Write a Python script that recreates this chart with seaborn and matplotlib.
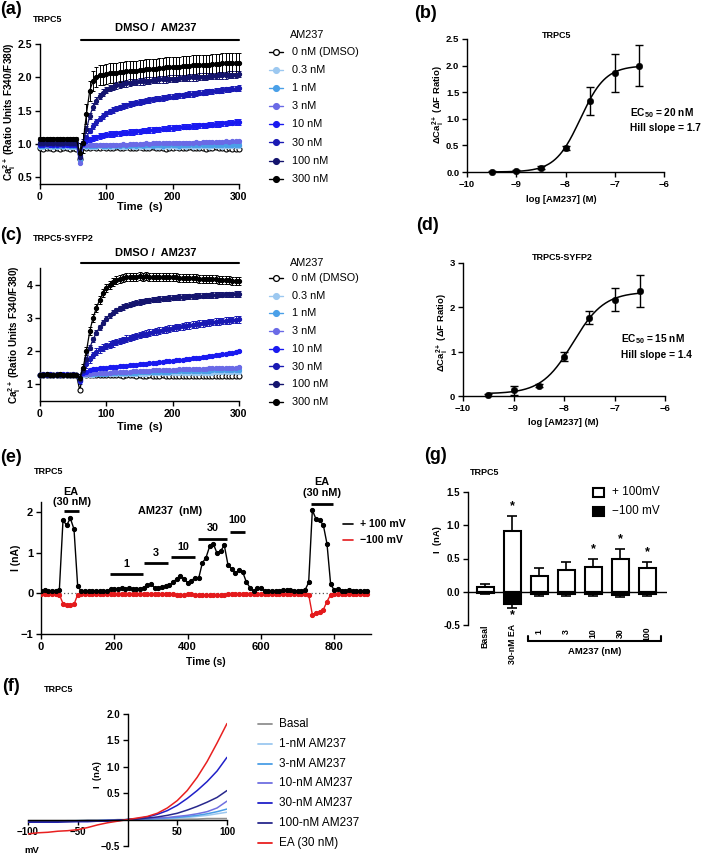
import numpy as np
import pandas as pd
import matplotlib
matplotlib.use("Agg")
import matplotlib.pyplot as plt
import matplotlib.transforms as mtrans
import seaborn as sns
from matplotlib.lines import Line2D
from matplotlib.patches import Rectangle

# ======================= DATA =======================
CONC_LABELS = ["0 nM (DMSO)", "0.3 nM", "1 nM", "3 nM", "10 nM", "30 nM", "100 nM", "300 nM"]
TIME_AC = list(range(0, 301, 5))

# ---- panel (a) TRPC5 Ca2+ traces ----
a_dmso = [0.94, 0.93, 0.94, 0.94, 0.93, 0.94, 0.93, 0.94, 0.94, 0.93, 0.94, 0.93, 0.77, 1.00,
          0.94, 0.94, 0.95, 0.94, 0.94, 0.95, 0.94, 0.94, 0.94, 0.95,
          0.94, 0.94, 0.95, 0.94, 0.94, 0.94, 0.95, 0.94, 0.94, 0.94,
          0.95, 0.94, 0.94, 0.94, 0.93, 0.94, 0.94, 0.95, 0.94, 0.94,
          0.94, 0.95, 0.94, 0.94, 0.94, 0.94, 0.93, 0.94, 0.94, 0.95,
          0.94, 0.94, 0.93, 0.94, 0.93, 0.93, 0.93]
a_03 = [0.96, 0.96, 0.97, 0.96, 0.96, 0.96, 0.97, 0.96, 0.96, 0.96, 0.96, 0.96, 0.80, 0.97,
        0.96, 0.96, 0.96, 0.96, 0.97, 0.96, 0.96, 0.96, 0.96, 0.97,
        0.96, 0.96, 0.96, 0.97, 0.96, 0.96, 0.96, 0.97, 0.96, 0.96,
        0.97, 0.96, 0.96, 0.96, 0.97, 0.96, 0.97, 0.96, 0.96, 0.97,
        0.96, 0.97, 0.96, 0.97, 0.96, 0.97, 0.97, 0.96, 0.97, 0.97,
        0.97, 0.96, 0.97, 0.97, 0.97, 0.97, 0.97]
a_1 = [0.97, 0.97, 0.97, 0.98, 0.97, 0.97, 0.97, 0.97, 0.98, 0.97, 0.97, 0.97, 0.76, 0.98,
       0.97, 0.97, 0.97, 0.97, 0.98, 0.97, 0.97, 0.97, 0.98, 0.97,
       0.97, 0.98, 0.97, 0.97, 0.98, 0.97, 0.98, 0.97, 0.98, 0.98,
       0.97, 0.98, 0.98, 0.97, 0.98, 0.98, 0.98, 0.98, 0.97, 0.98,
       0.98, 0.98, 0.99, 0.98, 0.98, 0.98, 0.99, 0.98, 0.99, 0.98,
       0.99, 0.99, 0.98, 0.99, 0.99, 0.99, 0.99]
a_3 = [0.98, 0.98, 0.99, 0.98, 0.98, 0.98, 0.98, 0.99, 0.98, 0.98, 0.98, 0.98, 0.72, 0.98,
       0.98, 0.98, 0.98, 0.99, 0.98, 0.99, 0.99, 0.99, 0.99, 0.99,
       0.99, 1.00, 0.99, 1.00, 1.00, 1.00, 1.00, 1.00, 1.01, 1.00,
       1.01, 1.01, 1.01, 1.01, 1.01, 1.02, 1.01, 1.02, 1.02, 1.02,
       1.02, 1.02, 1.02, 1.03, 1.02, 1.03, 1.03, 1.03, 1.03, 1.03,
       1.03, 1.03, 1.04, 1.03, 1.04, 1.04, 1.04]
a_10 = [0.99, 0.99, 1.00, 0.99, 0.99, 0.99, 1.00, 0.99, 0.99, 0.99, 0.99, 0.99, 0.80, 1.00,
        1.04, 1.07, 1.09, 1.10, 1.12, 1.13, 1.14, 1.15, 1.15, 1.16,
        1.16, 1.17, 1.17, 1.18, 1.18, 1.19, 1.19, 1.20, 1.20, 1.21,
        1.21, 1.22, 1.22, 1.23, 1.23, 1.24, 1.24, 1.25, 1.25, 1.26,
        1.26, 1.26, 1.27, 1.27, 1.28, 1.28, 1.28, 1.29, 1.29, 1.30,
        1.30, 1.31, 1.31, 1.32, 1.32, 1.33, 1.33]
a_30 = [1.00, 1.00, 1.00, 1.01, 1.00, 1.00, 1.00, 1.00, 1.01, 1.00, 1.00, 1.00, 0.84, 1.01,
        1.10, 1.20, 1.27, 1.33, 1.38, 1.42, 1.46, 1.49, 1.51, 1.53,
        1.55, 1.57, 1.58, 1.60, 1.61, 1.62, 1.63, 1.64, 1.65, 1.66,
        1.67, 1.68, 1.68, 1.69, 1.70, 1.71, 1.71, 1.72, 1.73, 1.73,
        1.74, 1.75, 1.75, 1.76, 1.77, 1.77, 1.78, 1.79, 1.79, 1.80,
        1.80, 1.81, 1.82, 1.82, 1.83, 1.83, 1.84]
a_100 = [1.01, 1.01, 1.02, 1.01, 1.01, 1.01, 1.01, 1.02, 1.01, 1.01, 1.01, 1.01, 0.80, 1.02,
         1.22, 1.42, 1.56, 1.65, 1.72, 1.77, 1.81, 1.84, 1.86, 1.88,
         1.89, 1.90, 1.91, 1.92, 1.93, 1.93, 1.94, 1.94, 1.95, 1.95,
         1.96, 1.96, 1.97, 1.97, 1.97, 1.98, 1.98, 1.98, 1.99, 1.99,
         1.99, 2.00, 2.00, 2.00, 2.01, 2.01, 2.01, 2.02, 2.02, 2.02,
         2.03, 2.03, 2.03, 2.04, 2.04, 2.04, 2.05]
a_300 = [1.07, 1.07, 1.08, 1.07, 1.07, 1.07, 1.08, 1.07, 1.07, 1.07, 1.07, 1.07, 0.86, 1.02,
         1.45, 1.80, 1.95, 2.01, 2.03, 2.04, 2.05, 2.06, 2.07, 2.07,
         2.08, 2.08, 2.09, 2.09, 2.10, 2.10, 2.11, 2.11, 2.12, 2.12,
         2.13, 2.13, 2.14, 2.14, 2.15, 2.15, 2.16, 2.16, 2.16, 2.17,
         2.17, 2.17, 2.18, 2.18, 2.18, 2.19, 2.19, 2.19, 2.20, 2.20,
         2.20, 2.21, 2.21, 2.21, 2.21, 2.22, 2.22]
a_sem_pre = [0.01, 0.01, 0.01, 0.02, 0.02, 0.02, 0.02, 0.03]
a_sem_post = [0.01, 0.02, 0.02, 0.02, 0.04, 0.04, 0.05, 0.15]

# ---- panel (c) TRPC5-SYFP2 Ca2+ traces ----
c_dmso = [1.27, 1.27, 1.28, 1.27, 1.27, 1.27, 1.27, 1.28, 1.27, 1.27, 1.27, 1.27, 0.82, 1.34,
          1.27, 1.27, 1.28, 1.27, 1.27, 1.27, 1.28, 1.27, 1.27, 1.27,
          1.27, 1.26, 1.27, 1.27, 1.27, 1.26, 1.27, 1.26, 1.26, 1.27,
          1.26, 1.26, 1.26, 1.27, 1.26, 1.26, 1.26, 1.26, 1.25, 1.26,
          1.26, 1.26, 1.25, 1.26, 1.26, 1.25, 1.26, 1.25, 1.25, 1.26,
          1.25, 1.25, 1.25, 1.26, 1.25, 1.25, 1.25]
c_03 = [1.28, 1.28, 1.28, 1.29, 1.28, 1.28, 1.28, 1.28, 1.29, 1.28, 1.28, 1.28, 1.15, 1.29,
        1.29, 1.29, 1.29, 1.30, 1.30, 1.30, 1.30, 1.30, 1.31, 1.31,
        1.31, 1.31, 1.31, 1.32, 1.32, 1.32, 1.32, 1.32, 1.32, 1.33,
        1.33, 1.33, 1.33, 1.33, 1.33, 1.34, 1.34, 1.34, 1.34, 1.34,
        1.34, 1.34, 1.35, 1.35, 1.35, 1.35, 1.35, 1.35, 1.35, 1.36,
        1.36, 1.36, 1.36, 1.36, 1.36, 1.36, 1.37]
c_1 = [1.28, 1.28, 1.29, 1.28, 1.28, 1.28, 1.28, 1.29, 1.28, 1.28, 1.28, 1.28, 1.10, 1.30,
       1.30, 1.31, 1.31, 1.31, 1.32, 1.32, 1.32, 1.33, 1.33, 1.33,
       1.34, 1.34, 1.34, 1.35, 1.35, 1.35, 1.36, 1.36, 1.36, 1.37,
       1.37, 1.37, 1.37, 1.38, 1.38, 1.38, 1.39, 1.39, 1.39, 1.39,
       1.40, 1.40, 1.40, 1.40, 1.41, 1.41, 1.41, 1.41, 1.42, 1.42,
       1.42, 1.42, 1.43, 1.43, 1.43, 1.43, 1.44]
c_3 = [1.29, 1.29, 1.29, 1.28, 1.29, 1.29, 1.29, 1.29, 1.28, 1.29, 1.29, 1.29, 1.12, 1.31,
       1.32, 1.32, 1.33, 1.33, 1.34, 1.34, 1.35, 1.35, 1.36, 1.36,
       1.37, 1.37, 1.38, 1.38, 1.39, 1.39, 1.40, 1.40, 1.41, 1.41,
       1.42, 1.42, 1.42, 1.43, 1.43, 1.44, 1.44, 1.44, 1.45, 1.45,
       1.45, 1.46, 1.46, 1.46, 1.47, 1.47, 1.47, 1.48, 1.48, 1.48,
       1.49, 1.49, 1.49, 1.50, 1.50, 1.50, 1.51]
c_10 = [1.29, 1.29, 1.30, 1.29, 1.29, 1.29, 1.29, 1.30, 1.29, 1.29, 1.29, 1.29, 1.10, 1.33,
        1.38, 1.42, 1.45, 1.47, 1.48, 1.49, 1.50, 1.51, 1.52, 1.53,
        1.54, 1.55, 1.56, 1.57, 1.58, 1.59, 1.60, 1.61, 1.62, 1.63,
        1.64, 1.65, 1.66, 1.68, 1.69, 1.70, 1.71, 1.72, 1.73, 1.74,
        1.76, 1.77, 1.78, 1.79, 1.80, 1.82, 1.83, 1.84, 1.85, 1.87,
        1.88, 1.90, 1.91, 1.93, 1.95, 1.97, 2.00]
c_30 = [1.29, 1.29, 1.29, 1.30, 1.29, 1.29, 1.29, 1.29, 1.30, 1.29, 1.29, 1.29, 1.12, 1.40,
        1.60, 1.75, 1.88, 1.98, 2.05, 2.10, 2.15, 2.19, 2.23, 2.27,
        2.30, 2.33, 2.37, 2.40, 2.43, 2.46, 2.48, 2.51, 2.53, 2.56,
        2.58, 2.60, 2.62, 2.64, 2.66, 2.68, 2.70, 2.72, 2.73, 2.75,
        2.77, 2.78, 2.80, 2.81, 2.83, 2.84, 2.85, 2.87, 2.88, 2.89,
        2.90, 2.91, 2.92, 2.93, 2.94, 2.95, 2.96]
c_100 = [1.29, 1.30, 1.29, 1.29, 1.29, 1.30, 1.29, 1.29, 1.29, 1.29, 1.30, 1.29, 1.15, 1.42,
         1.75, 2.10, 2.35, 2.55, 2.72, 2.86, 2.98, 3.08, 3.16, 3.23,
         3.29, 3.33, 3.37, 3.40, 3.43, 3.46, 3.48, 3.50, 3.52, 3.53,
         3.55, 3.56, 3.57, 3.58, 3.59, 3.60, 3.61, 3.62, 3.63, 3.63,
         3.64, 3.65, 3.65, 3.66, 3.67, 3.67, 3.68, 3.68, 3.69, 3.69,
         3.70, 3.70, 3.71, 3.71, 3.71, 3.72, 3.72]
c_300 = [1.29, 1.29, 1.30, 1.29, 1.29, 1.29, 1.30, 1.29, 1.29, 1.29, 1.29, 1.29, 1.20, 1.50,
         2.00, 2.60, 3.00, 3.30, 3.55, 3.75, 3.90, 4.00, 4.08, 4.14,
         4.18, 4.20, 4.22, 4.23, 4.24, 4.24, 4.25, 4.24, 4.25, 4.24,
         4.24, 4.23, 4.24, 4.23, 4.23, 4.22, 4.22, 4.22, 4.21, 4.21,
         4.20, 4.20, 4.19, 4.19, 4.18, 4.18, 4.17, 4.17, 4.16, 4.16,
         4.15, 4.14, 4.14, 4.13, 4.12, 4.11, 4.10]
c_sem_pre = [0.02, 0.02, 0.02, 0.02, 0.02, 0.02, 0.02, 0.02]
c_sem_post = [0.02, 0.02, 0.02, 0.03, 0.03, 0.10, 0.08, 0.12]

# ---- panels (b), (d) concentration-response ----
LOG_CONC = [-9.5, -9.0, -8.5, -8.0, -7.5, -7.0, -6.5]
b_mean = [0.00, 0.01, 0.08, 0.45, 1.33, 1.86, 2.00]
b_sem = [0.02, 0.02, 0.03, 0.03, 0.26, 0.36, 0.38]
b_fit = dict(bottom=0.0, top=2.0, logec50=np.log10(20e-9), hill=1.7)
d_mean = [0.02, 0.13, 0.23, 0.89, 1.77, 2.17, 2.37]
d_sem = [0.02, 0.10, 0.03, 0.10, 0.15, 0.26, 0.36]
d_fit = dict(bottom=0.05, top=2.35, logec50=np.log10(15e-9), hill=1.4)

# ---- panel (e) time course of current ----
TIME_E = list(range(0, 900, 10))
e_pos = [0.07, 0.08, 0.07, 0.06, 0.07, 0.08, 1.80, 1.68, 1.85, 1.58,
         0.18, 0.05, 0.06, 0.06, 0.05, 0.06, 0.05, 0.06, 0.06, 0.10,
         0.11, 0.12, 0.13, 0.10, 0.13, 0.10, 0.11, 0.12, 0.14, 0.21,
         0.22, 0.14, 0.14, 0.16, 0.17, 0.20, 0.27, 0.36, 0.42, 0.36,
         0.26, 0.31, 0.39, 0.37, 0.75, 0.88, 1.16, 1.22, 0.99, 1.05,
         1.18, 0.70, 0.60, 0.50, 0.57, 0.53, 0.28, 0.14, 0.05, 0.14,
         0.14, 0.06, 0.05, 0.06, 0.05, 0.07, 0.08, 0.08, 0.09, 0.07,
         0.06, 0.07, 0.08, 0.27, 2.05, 1.83, 1.80, 1.68, 1.22, 0.22,
         0.08, 0.10, 0.07, 0.07, 0.08, 0.06, 0.07, 0.07, 0.05, 0.07]
e_neg = [-0.02, -0.02, -0.02, -0.02, -0.02, -0.03, -0.25, -0.29, -0.29, -0.27,
         -0.03, -0.02, -0.02, -0.02, -0.02, -0.02, -0.02, -0.02, -0.02, -0.02,
         -0.02, -0.02, -0.02, -0.02, -0.02, -0.02, -0.02, -0.02, -0.02, -0.02,
         -0.02, -0.02, -0.02, -0.02, -0.02, -0.02, -0.02, -0.03, -0.03, -0.03,
         -0.02, -0.02, -0.03, -0.03, -0.04, -0.04, -0.05, -0.05, -0.05, -0.04,
         -0.03, -0.02, -0.02, -0.02, -0.02, -0.02, -0.02, -0.02, -0.02, -0.02,
         -0.02, -0.02, -0.02, -0.02, -0.02, -0.02, -0.02, -0.02, -0.02, -0.02,
         -0.02, -0.02, -0.02, -0.03, -0.52, -0.48, -0.46, -0.40, -0.20, -0.03,
         -0.02, -0.02, -0.02, -0.02, -0.02, -0.02, -0.02, -0.02, -0.02, -0.02]
E_BARS = [("1", 188, 277, 0.47, 0.72), ("3", 281, 347, 0.76, 1.00),
          ("10", 354, 420, 0.89, 1.13), ("30", 427, 508, 1.35, 1.62),
          ("100", 516, 556, 1.52, 1.80)]

# ---- panel (f) I-V relationships ----
VOLT = list(range(-100, 101, 10))
F_LABELS = ["Basal", "1-nM AM237", "3-nM AM237", "10-nM AM237", "30-nM AM237", "100-nM AM237", "EA (30 nM)"]
f_basal = [-0.02, -0.02, -0.02, -0.02, -0.02, -0.02, -0.01, -0.01, -0.01, 0.00, 0.00,
           0.00, 0.00, 0.00, 0.01, 0.01, 0.01, 0.01, 0.02, 0.02, 0.02]
f_1 = [-0.03, -0.03, -0.03, -0.03, -0.02, -0.02, -0.02, -0.02, -0.01, -0.01, 0.00,
       0.00, 0.01, 0.01, 0.02, 0.03, 0.04, 0.06, 0.08, 0.11, 0.14]
f_3 = [-0.03, -0.03, -0.03, -0.03, -0.03, -0.02, -0.02, -0.02, -0.01, -0.01, 0.00,
       0.01, 0.01, 0.02, 0.03, 0.04, 0.06, 0.08, 0.11, 0.15, 0.20]
f_10 = [-0.04, -0.04, -0.04, -0.03, -0.03, -0.03, -0.02, -0.02, -0.01, -0.01, 0.00,
        0.01, 0.02, 0.03, 0.04, 0.06, 0.08, 0.11, 0.15, 0.22, 0.35]
f_30 = [-0.05, -0.05, -0.05, -0.05, -0.04, -0.04, -0.04, -0.03, -0.03, -0.02, 0.00,
        0.02, 0.05, 0.10, 0.17, 0.27, 0.40, 0.55, 0.72, 0.92, 1.18]
f_100 = [-0.04, -0.04, -0.04, -0.04, -0.04, -0.03, -0.03, -0.03, -0.02, -0.01, 0.00,
         0.01, 0.03, 0.05, 0.08, 0.12, 0.18, 0.25, 0.33, 0.42, 0.55]
f_ea = [-0.27, -0.25, -0.24, -0.22, -0.21, -0.19, -0.15, -0.10, -0.06, -0.03, 0.00,
        0.03, 0.06, 0.12, 0.22, 0.36, 0.55, 0.80, 1.10, 1.45, 1.82]

# ---- panel (g) summary bars ----
G_CATS = ["Basal", "30-nM EA", "1", "3", "10", "30", "100"]
g_pos = [0.07, 0.92, 0.24, 0.33, 0.37, 0.49, 0.36]
g_pos_err = [0.04, 0.22, 0.12, 0.12, 0.12, 0.15, 0.09]
g_neg = [-0.02, -0.19, -0.04, -0.04, -0.04, -0.05, -0.04]
g_neg_err = [0.02, 0.05, 0.02, 0.02, 0.02, 0.03, 0.02]
g_star_pos = [False, True, False, False, True, True, True]
g_star_neg = [False, True, False, False, False, False, False]

# ======================= STYLE =======================
A_COLORS = ["white", "#9cc8f0", "#4aa0e8", "#6a6ae6", "#1a1af0", "#1a1ab4", "#14146e", "black"]
F_COLORS = ["#909090", "#9cc8f0", "#4a9ee6", "#7070e0", "#2020c8", "#28288c", "#e82020"]

sns.set_theme(style="ticks")
plt.rcParams["font.family"] = ["Liberation Sans", "DejaVu Sans"]
plt.rcParams["font.weight"] = "bold"
plt.rcParams["mathtext.fontset"] = "custom"
plt.rcParams["mathtext.rm"] = "Liberation Sans"
plt.rcParams["mathtext.bf"] = "Liberation Sans:bold"
plt.rcParams["mathtext.it"] = "Liberation Sans:italic"
plt.rcParams["mathtext.default"] = "bf"
plt.rcParams["axes.linewidth"] = 1.0
plt.rcParams["axes.edgecolor"] = "black"
plt.rcParams["xtick.color"] = "black"
plt.rcParams["ytick.color"] = "black"
plt.rcParams["text.color"] = "black"

W, H = 709, 855
fig = plt.figure(figsize=(W / 100, H / 100), dpi=100)


def add_ax(l, t, r, b):
    ax = fig.add_axes([l / W, 1 - b / H, (r - l) / W, (b - t) / H])
    ax.set_facecolor("none")
    sns.despine(ax=ax)
    return ax


def ftext(x, y, s, **kw):
    kw.setdefault("ha", "center")
    kw.setdefault("va", "center")
    fig.text(x / W, 1 - y / H, s, **kw)


def style_ticks(ax, size):
    ax.tick_params(length=3.5, width=1.0, pad=2, labelsize=size)
    for lab in ax.get_xticklabels() + ax.get_yticklabels():
        lab.set_fontweight("bold")


def fig_line(x0, x1, y0, y1, **kw):
    fig.add_artist(Line2D([x0 / W, x1 / W], [1 - y0 / H, 1 - y1 / H], transform=fig.transFigure, **kw))


def trace_panel(ax, series, sem_pre, sem_post):
    t = np.array(TIME_AC)
    order = [1, 2, 3, 4, 5, 6, 7, 0]
    for k in order:
        y = np.array(series[k])
        err = np.where(t < 60, sem_pre[k], sem_post[k])
        if k == 0:
            col, mfc, mec = "black", "white", "black"
        else:
            col, mfc, mec = A_COLORS[k], A_COLORS[k], A_COLORS[k]
        ax.errorbar(t, y, yerr=err, fmt="none", ecolor=col, elinewidth=0.7, capsize=1.3,
                    capthick=0.7, zorder=2 + k * 0.1, clip_on=False)
        sns.lineplot(x=t, y=y, ax=ax, color=col, marker="o", markersize=3.6 if k == 0 else 3.0,
                     markerfacecolor=mfc, markeredgecolor=mec, markeredgewidth=0.8,
                     linewidth=0.9, legend=False, estimator=None, sort=False,
                     zorder=3 + k * 0.1, clip_on=False)


def trace_legend(y_title, y0, dy):
    ftext(290, y_title, "AM237", ha="left", fontsize=7.8, fontweight="normal")
    for k, lab in enumerate(CONC_LABELS):
        y = y0 + k * dy
        if k == 0:
            col, mfc = "black", "white"
        else:
            col, mfc = A_COLORS[k], A_COLORS[k]
        fig_line(269, 283, y, y, color=col, lw=1.0)
        fig.add_artist(Line2D([276 / W], [1 - y / H], transform=fig.transFigure, marker="o",
                              markersize=4.2, markerfacecolor=mfc, markeredgecolor=col,
                              markeredgewidth=0.9, linestyle="none"))
        ftext(292, y, lab, ha="left", fontsize=7.8, fontweight="normal")


# ---------------- (a) ----------------
axA = add_ax(40, 44, 239, 184)
trace_panel(axA, [a_dmso, a_03, a_1, a_3, a_10, a_30, a_100, a_300], a_sem_pre, a_sem_post)
axA.set_xlim(0, 300)
axA.set_ylim(0.4, 2.5)
axA.set_xticks([0, 100, 200, 300])
axA.set_yticks([0.5, 1.0, 1.5, 2.0, 2.5])
axA.set_yticklabels(["0.5", "1.0", "1.5", "2.0", "2.5"])
axA.set_xlabel("")
axA.set_ylabel("")
style_ticks(axA, 7.6)
axA.plot([62, 300], [2.56, 2.56], color="black", lw=1.5, clip_on=False)
axA.text(175, 2.74, "DMSO /  AM237", ha="center", va="center", fontsize=8)
ftext(11, 10, "(a)", fontsize=13)
ftext(33, 20, "TRPC5", ha="left", fontsize=6.5)
ftext(140, 207, "Time  (s)", fontsize=8)
ftext(10, 112, r"Ca$^{2+}_{i}$ (Ratio Units F340/F380)", rotation=90, fontsize=7.2)
trace_legend(35, 52, 18.1)

# ---------------- (c) ----------------
axC = add_ax(40, 268, 239, 401)
trace_panel(axC, [c_dmso, c_03, c_1, c_3, c_10, c_30, c_100, c_300], c_sem_pre, c_sem_post)
axC.set_xlim(0, 300)
axC.set_ylim(0.5, 4.5)
axC.set_xticks([0, 100, 200, 300])
axC.set_yticks([1, 2, 3, 4])
axC.set_xlabel("")
axC.set_ylabel("")
style_ticks(axC, 7.6)
axC.plot([62, 300], [4.65, 4.65], color="black", lw=1.5, clip_on=False)
axC.text(175, 4.95, "DMSO /  AM237", ha="center", va="center", fontsize=8)
ftext(11, 236, "(c)", fontsize=13)
ftext(33, 238, "TRPC5-SYFP2", ha="left", fontsize=6.5)
ftext(140, 427, "Time  (s)", fontsize=8)
ftext(15, 335, r"Ca$^{2+}_{i}$ (Ratio Units F340/F380)", rotation=90, fontsize=7.2)
trace_legend(263, 278, 17.7)


# ---------------- (b), (d) ----------------
def hill(x, p):
    return p["bottom"] + (p["top"] - p["bottom"]) / (1 + 10 ** ((p["logec50"] - x) * p["hill"]))


def dose_panel(ax, mean, sem, p, ymax, yticks, ylabels):
    xf = np.linspace(LOG_CONC[0], LOG_CONC[-1], 200)
    sns.lineplot(x=xf, y=hill(xf, p), ax=ax, color="black", linewidth=1.1, legend=False,
                 estimator=None, sort=False)
    ax.errorbar(LOG_CONC, mean, yerr=sem, fmt="none", ecolor="black", elinewidth=1.0,
                capsize=3, capthick=1.0)
    sns.scatterplot(x=LOG_CONC, y=mean, ax=ax, color="black", s=22, edgecolor="black",
                    legend=False, zorder=5, clip_on=False)
    ax.set_xlim(-10, -6)
    ax.set_ylim(0, ymax)
    ax.set_xticks([-10, -9, -8, -7, -6])
    ax.set_yticks(yticks)
    ax.set_yticklabels(ylabels)
    ax.set_xlabel("")
    ax.set_ylabel("")
    style_ticks(ax, 6.8)


axB = add_ax(467, 39, 664, 172)
dose_panel(axB, b_mean, b_sem, b_fit, 2.5, [0, 0.5, 1.0, 1.5, 2.0, 2.5],
           ["0.0", "0.5", "1.0", "1.5", "2.0", "2.5"])
ftext(426, 14, "(b)", fontsize=13)
ftext(557, 35, "TRPC5", fontsize=6.5)
ftext(630, 113, r"EC$_{50}$ = 20 nM", ha="left", fontsize=7.3)
ftext(630, 128, "Hill slope = 1.7", ha="left", fontsize=7.3)
ftext(561, 200, "log [AM237] (M)", fontsize=6.8)
ftext(438, 105, "ΔCa$^{2+}_{i}$ (ΔF Ratio)", rotation=90, fontsize=6.8)

axD = add_ax(463, 263, 665, 396)
dose_panel(axD, d_mean, d_sem, d_fit, 3, [0, 1, 2, 3], ["0", "1", "2", "3"])
ftext(428, 225, "(d)", fontsize=13)
ftext(562, 257, "TRPC5-SYFP2", fontsize=6.5)
ftext(621, 339, r"EC$_{50}$ = 15 nM", ha="left", fontsize=7.3)
ftext(621, 355, "Hill slope = 1.4", ha="left", fontsize=7.3)
ftext(563, 422, "log [AM237] (M)", fontsize=6.8)
ftext(442, 333, "ΔCa$^{2+}_{i}$ (ΔF Ratio)", rotation=90, fontsize=6.8)

# ---------------- (e) ----------------
axE = add_ax(41, 502, 371, 634)
axE.axhline(0, color="#555555", lw=0.9, ls=(0, (1, 2)), zorder=1)
sns.lineplot(x=TIME_E, y=e_neg, ax=axE, color="#e41a1c", marker="o", markersize=3,
             markeredgecolor="#e41a1c", linewidth=1.0, legend=False, estimator=None, sort=False,
             zorder=3)
sns.lineplot(x=TIME_E, y=e_pos, ax=axE, color="black", marker="o", markersize=3,
             markeredgecolor="black", linewidth=1.0, legend=False, estimator=None, sort=False,
             zorder=4)
axE.set_xlim(0, 900)
axE.set_ylim(-1, 2.25)
axE.set_xticks([0, 200, 400, 600, 800])
axE.set_yticks([-1, 0, 1, 2])
axE.set_xlabel("")
axE.set_ylabel("")
style_ticks(axE, 8)
for lab, x0, x1, yb, yt in E_BARS:
    axE.plot([x0, x1], [yb, yb], color="black", lw=2.0, solid_capstyle="butt")
    axE.text((x0 + x1) / 2, yt, lab, ha="center", va="center", fontsize=7.8)
axE.plot([64, 104], [2.02, 2.02], color="black", lw=2.0, clip_on=False, solid_capstyle="butt")
axE.text(80, 2.49, "EA", ha="center", va="center", fontsize=7.8)
axE.text(84, 2.26, "(30 nM)", ha="center", va="center", fontsize=7.8)
axE.plot([736, 795], [2.2, 2.2], color="black", lw=2.0, clip_on=False, solid_capstyle="butt")
axE.text(766, 2.74, "EA", ha="center", va="center", fontsize=7.8)
axE.text(766, 2.46, "(30 nM)", ha="center", va="center", fontsize=7.8)
axE.text(352, 2.03, "AM237  (nM)", ha="center", va="center", fontsize=7.8)
fig_line(343, 353, 524, 524, color="black", lw=1.2)
ftext(360, 524, "+ 100 mV", ha="left", fontsize=7.6)
fig_line(343, 353, 540, 540, color="#e41a1c", lw=1.2)
ftext(360, 540, "\u2212100 mV", ha="left", fontsize=7.6)
ftext(11, 457, "(e)", fontsize=13)
ftext(34, 471, "TRPC5", ha="left", fontsize=6.5)
ftext(206, 662, "Time (s)", fontsize=7.5)
ftext(16, 558, "I (nA)", rotation=90, fontsize=7.5)

# ---------------- (g) ----------------
axG = add_ax(468, 492, 667, 625)
sns.barplot(x=G_CATS, y=g_pos, order=G_CATS, color="white", edgecolor="black", linewidth=1.5,
            width=0.63, saturation=1, errorbar=None, ax=axG, zorder=3)
sns.barplot(x=G_CATS, y=g_neg, order=G_CATS, color="black", edgecolor="black", linewidth=1.5,
            width=0.63, saturation=1, errorbar=None, ax=axG, zorder=3)
xs = np.arange(len(G_CATS))
zeros = np.zeros(len(G_CATS))
axG.errorbar(xs, g_pos, yerr=[zeros, g_pos_err], fmt="none", ecolor="black", elinewidth=1.2,
             capsize=3.5, capthick=1.2, zorder=2)
axG.errorbar(xs, g_neg, yerr=[g_neg_err, zeros], fmt="none", ecolor="black", elinewidth=1.2,
             capsize=3.5, capthick=1.2, zorder=2)
for i in range(len(G_CATS)):
    if g_star_pos[i]:
        axG.text(i, g_pos[i] + g_pos_err[i] + 0.06, "*", ha="center", va="bottom", fontsize=9)
    if g_star_neg[i]:
        axG.text(i, g_neg[i] - g_neg_err[i] - 0.02, "*", ha="center", va="top", fontsize=9)
axG.set_xlim(-0.63, 6.74)
axG.set_ylim(-0.5, 1.5)
axG.axhline(0, color="black", lw=1.0, zorder=4)
axG.spines["bottom"].set_visible(False)
axG.set_xticks([])
axG.set_yticks([-0.5, 0.0, 0.5, 1.0, 1.5])
axG.set_yticklabels(["-0.5", "0.0", "0.5", "1.0", "1.5"])
axG.set_xlabel("")
axG.set_ylabel("")
style_ticks(axG, 7)
tG = mtrans.blended_transform_factory(axG.transData, fig.transFigure)
G_LABEL_Y = [636, 644, 632, 632, 633, 633, 634]
for i, lab in enumerate(G_CATS):
    axG.text(i, 1 - G_LABEL_Y[i] / H, lab, transform=tG, rotation=90, ha="center", va="center",
             fontsize=6.3, clip_on=False)
fig_line(528, 661, 641, 641, color="black", lw=1.5)
fig_line(528, 528, 641, 636, color="black", lw=1.5)
fig_line(661, 661, 641, 636, color="black", lw=1.5)
ftext(595, 651, "AM237 (nM)", fontsize=6.8)
fig.add_artist(Rectangle((593 / W, 1 - 497 / H), 11 / W, 9 / H, transform=fig.transFigure,
                         facecolor="white", edgecolor="black", lw=1.5))
ftext(612, 492, "+ 100mV", ha="left", fontsize=8.5, fontweight="normal")
fig.add_artist(Rectangle((593 / W, 1 - 516 / H), 11 / W, 9 / H, transform=fig.transFigure,
                         facecolor="black", edgecolor="black", lw=1.5))
ftext(612, 511, "\u2212100 mV", ha="left", fontsize=8.5, fontweight="normal")
ftext(435, 455, "(g)", fontsize=13)
ftext(485, 472, "TRPC5", fontsize=6.5)
ftext(437, 540, "I  (nA)", rotation=90, fontsize=6.8)

# ---------------- (f) ----------------
axF = add_ax(28, 714, 227, 846)
f_series = [f_basal, f_1, f_3, f_10, f_30, f_100, f_ea]
df_f = pd.DataFrame({
    "mV": np.tile(VOLT, len(F_LABELS)),
    "I": np.concatenate(f_series),
    "cond": np.repeat(F_LABELS, len(VOLT)),
})
sns.lineplot(data=df_f, x="mV", y="I", hue="cond", hue_order=F_LABELS,
             palette=dict(zip(F_LABELS, F_COLORS)), linewidth=1.1, legend=False,
             estimator=None, sort=False, ax=axF)
axF.set_xlim(-100, 100)
axF.set_ylim(-0.5, 2.0)
axF.spines["left"].set_position(("data", 0))
axF.spines["bottom"].set_position(("data", 0))
axF.set_xticks([-100, -50, 50, 100])
axF.set_xticklabels(["\u2212100", "\u221250", "50", "100"])
axF.set_yticks([-0.5, 0.5, 1.0, 1.5, 2.0])
axF.set_yticklabels(["\u22120.5", "0.5", "1.0", "1.5", "2.0"])
axF.set_xlabel("")
axF.set_ylabel("")
style_ticks(axF, 7)
ftext(11, 686, "(f)", fontsize=13)
ftext(44, 690, "TRPC5", ha="left", fontsize=6.5)
ftext(98, 775, "I  (nA)", rotation=90, fontsize=6.8)
ftext(32, 850, "mV", fontsize=6.8)
for k, (lab, col) in enumerate(zip(F_LABELS, F_COLORS)):
    y = 724 + k * 19.8
    fig_line(258, 272, y, y, color=col, lw=1.3)
    ftext(279, y, lab, ha="left", fontsize=8.5, fontweight="normal")

fig.savefig("out.png", dpi=100)
